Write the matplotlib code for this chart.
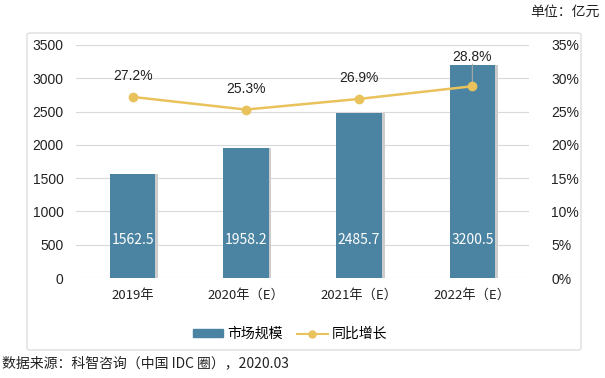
import matplotlib.pyplot as plt
from matplotlib.patches import FancyBboxPatch
from matplotlib.lines import Line2D

plt.rcParams['font.family'] = ['Noto Sans CJK SC', 'DejaVu Sans']
num_font = ['Liberation Sans', 'Noto Sans CJK SC']

# 数据
years = ['2019年', '2020年（E）', '2021年（E）', '2022年（E）']
market = [1562.5, 1958.2, 2485.7, 3200.5]
growth = [27.2, 25.3, 26.9, 28.8]

bar_color = '#4b84a2'
line_color = '#e9c25c'
text_color = '#222222'

fig = plt.figure(figsize=(6.05, 3.78), dpi=100)

# 外框
frame = FancyBboxPatch((27 / 605, 1 - 350 / 378), (581 - 27) / 605, (350 - 33) / 378,
                       boxstyle='round,pad=0,rounding_size=0.006',
                       transform=fig.transFigure, facecolor='white',
                       edgecolor='#dddddd', linewidth=1.0, zorder=-5)
fig.patches.append(frame)

ax = fig.add_axes([76 / 605, 1 - 278 / 378, (529 - 76) / 605, (278 - 45) / 378])
ax.set_facecolor('none')
x = range(len(years))

# 阴影 + 柱子
ax.bar([i + 0.025 for i in x], market, width=0.4, color='#cccccc', zorder=2)
bars = ax.bar(x, market, width=0.4, color=bar_color, zorder=3)
for i, v in enumerate(market):
    ax.text(i, 570, f'{v:.1f}', ha='center', va='center', color='white',
            fontsize=10, zorder=4)

ax.set_ylim(0, 3500)
ax.set_yticks(range(0, 3501, 500))
ax.set_xlim(-0.5, 3.5)
ax.set_xticks(list(x))
ax.set_xticklabels(years)
ax.grid(axis='y', color='#d9d9d9', linewidth=0.8, zorder=0)
for s in ax.spines.values():
    s.set_visible(False)
ax.tick_params(length=0, labelsize=9.5, colors=text_color)
ax.tick_params(axis='x', pad=8)
ax.tick_params(axis='y', pad=9)
for t in ax.get_yticklabels():
    t.set_family(num_font)
    t.set_fontsize(10)

ax2 = ax.twinx()
ax2.plot(x, growth, color=line_color, linewidth=1.8, marker='o', markersize=6, zorder=5)
for i, g in enumerate(growth):
    off = 16 if i == 3 else 10
    ax2.annotate(f'{g:.1f}%', (i, g), xytext=(0, off), textcoords='offset points',
                 ha='center', va='bottom', fontsize=10, color=text_color, family=num_font)
# 2022 的引导线
ax2.annotate('', (3, growth[3]), xytext=(0, 16), textcoords='offset points',
             arrowprops=dict(arrowstyle='-', color='#aaaaaa', lw=0.8, shrinkA=0, shrinkB=0),
             zorder=4)
ax2.set_ylim(0, 35)
ax2.set_yticks(range(0, 36, 5))
ax2.set_yticklabels([f'{t}%' for t in range(0, 36, 5)], family=num_font, fontsize=10)
for s in ax2.spines.values():
    s.set_visible(False)
ax2.tick_params(length=0, colors=text_color, pad=16)

# 图例
h1 = plt.Rectangle((0, 0), 1, 1, color=bar_color)
h2 = Line2D([], [], color=line_color, marker='o', markersize=5, linewidth=1.5)
fig.legend([h1, h2], ['市场规模', '同比增长'], loc='center', bbox_to_anchor=(290 / 605, 1 - 334 / 378),
           ncol=2, frameon=False, fontsize=10, handlelength=2.2, handleheight=0.5,
           columnspacing=1.0, handletextpad=0.3)

fig.text(600 / 605, 1 - 12 / 378, '单位：亿元', ha='right', va='center', fontsize=10, color=text_color)
fig.text(2 / 605, 1 - 363 / 378, '数据来源：科智咨询（中国 IDC 圈），2020.03', ha='left', va='center',
         fontsize=10, color=text_color)

fig.savefig('out.png', dpi=100)
